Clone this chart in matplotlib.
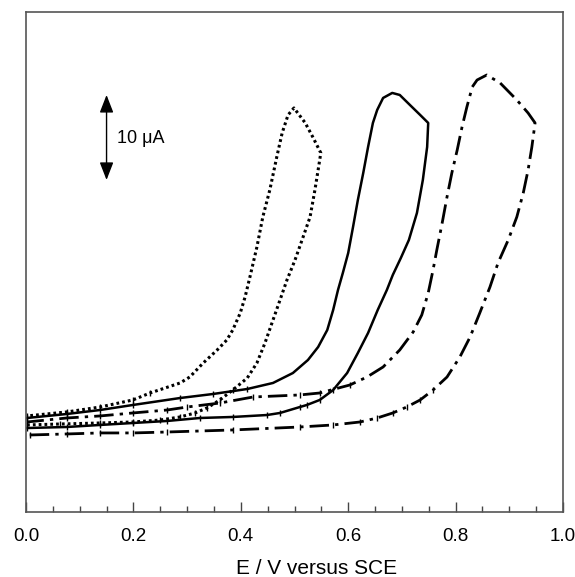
import numpy as np
import matplotlib
matplotlib.use("Agg")
import matplotlib.pyplot as plt

plt.rcParams['font.family'] = ['Liberation Sans', 'DejaVu Sans']

# Cyclic voltammograms, current in uA (arbitrary zero), potential in V vs SCE.
# Each loop: forward scan (lower branch) to the vertex, then the reverse scan.
E_dot = [0.002, 0.063, 0.138, 0.199, 0.250, 0.287, 0.315, 0.337, 0.361, 0.385,
         0.412, 0.430, 0.445, 0.460, 0.473, 0.486, 0.501, 0.516, 0.529, 0.538,
         0.544, 0.549, 0.534, 0.520, 0.499, 0.488, 0.477, 0.467, 0.454, 0.441,
         0.430, 0.417, 0.408, 0.399, 0.385, 0.374, 0.356, 0.330, 0.305, 0.287,
         0.231, 0.199, 0.138, 0.076, 0.002]
I_dot = [1.18, 1.29, 1.41, 1.53, 1.76, 2.12, 2.59, 3.18, 4.12, 5.29,
         6.70, 8.47, 10.82, 13.53, 15.88, 18.24, 20.59, 23.29, 25.65, 28.82,
         31.18, 33.18, 35.06, 36.71, 38.47, 37.65, 35.53, 32.71, 28.82, 25.65,
         22.12, 18.59, 16.24, 14.35, 12.35, 11.18, 10.00, 8.47, 6.82, 6.12,
         4.94, 4.12, 3.29, 2.71, 2.24]

E_solid = [0.002, 0.076, 0.138, 0.199, 0.263, 0.324, 0.385, 0.449, 0.473, 0.510,
           0.523, 0.547, 0.572, 0.598, 0.618, 0.637, 0.655, 0.672, 0.683, 0.698,
           0.713, 0.728, 0.739, 0.747, 0.749, 0.734, 0.715, 0.696, 0.682, 0.665,
           0.654, 0.646, 0.637, 0.628, 0.618, 0.609, 0.600, 0.590, 0.581, 0.572,
           0.561, 0.544, 0.525, 0.510, 0.497, 0.460, 0.412, 0.348, 0.287, 0.199,
           0.138, 0.076, 0.002]
I_solid = [0.82, 0.94, 1.18, 1.41, 1.65, 2.00, 2.12, 2.35, 2.59, 3.29,
           3.53, 4.12, 5.29, 7.29, 9.65, 12.00, 14.71, 17.06, 18.82, 20.82,
           22.94, 26.12, 30.00, 33.88, 36.71, 37.65, 38.82, 40.00, 40.24, 39.65,
           38.24, 36.71, 33.88, 30.82, 27.65, 24.47, 21.41, 19.06, 17.06, 14.71,
           12.35, 10.35, 8.82, 8.00, 7.29, 6.12, 5.41, 4.82, 4.35, 3.53,
           2.94, 2.47, 2.00]

E_dashdot = [0.007, 0.076, 0.138, 0.199, 0.263, 0.385, 0.510, 0.572, 0.622, 0.654,
             0.683, 0.709, 0.734, 0.758, 0.784, 0.808, 0.827, 0.845, 0.864, 0.879,
             0.898, 0.914, 0.926, 0.935, 0.942, 0.948, 0.935, 0.914, 0.883, 0.858,
             0.840, 0.831, 0.821, 0.812, 0.803, 0.793, 0.784, 0.775, 0.765, 0.758,
             0.749, 0.737, 0.721, 0.696, 0.665, 0.635, 0.603, 0.547, 0.510, 0.423,
             0.361, 0.300, 0.263, 0.199, 0.138, 0.076, 0.002]
I_dashdot = [0.00, 0.12, 0.24, 0.24, 0.35, 0.59, 0.94, 1.18, 1.53, 2.00,
             2.59, 3.29, 4.12, 5.29, 6.82, 9.18, 11.53, 14.35, 17.41, 20.24,
             22.94, 25.65, 28.47, 31.18, 33.88, 36.71, 37.88, 39.41, 41.41, 42.35,
             41.76, 40.94, 38.59, 36.24, 33.53, 30.82, 28.00, 24.94, 21.76, 19.41,
             16.71, 14.12, 12.12, 10.00, 8.00, 6.82, 5.88, 4.94, 4.71, 4.47,
             3.76, 3.29, 2.94, 2.59, 2.24, 2.00, 1.53]

fig = plt.figure(figsize=(5.75, 5.77), dpi=100)
ax = fig.add_axes([26 / 575, 65 / 577, 537 / 575, 500 / 577])

ax.plot(E_dot, I_dot, color='black', lw=2.2, ls=(0, (0.9, 1.0)))
ax.plot(E_solid, I_solid, color='black', lw=1.8, ls='-')
ax.plot(E_dashdot, I_dashdot, color='black', lw=2.0, ls=(0, (7, 2.2, 1.2, 2.2)))

# small point markers along the flat baseline parts
for E, I in [(E_dot, I_dot), (E_solid, I_solid), (E_dashdot, I_dashdot)]:
    E = np.asarray(E)
    I = np.asarray(I)
    m = I < 6.0
    ax.plot(E[m], I[m], ls='none', marker='|', ms=4, mew=1.0, color='black')

# 10 uA scale bar
ax.annotate('', xy=(0.150, 40.0), xytext=(0.150, 30.0),
            arrowprops=dict(arrowstyle='<|-|>,head_length=0.9,head_width=0.35',
                            mutation_scale=12, color='black', lw=1.0,
                            shrinkA=0, shrinkB=0))
ax.text(0.169, 34.9, '10 \u03bcA', fontsize=13, ha='left', va='center')

ax.set_xlim(0, 1.0)
ax.set_ylim(-9.06, 49.76)
ax.set_xticks(np.arange(0, 1.01, 0.2))
ax.set_xticks(np.arange(0, 1.01, 0.05), minor=True)
ax.set_xticklabels(['0.0', '0.2', '0.4', '0.6', '0.8', '1.0'])
ax.set_yticks([])
ax.tick_params(axis='x', which='major', direction='in', length=7.5, width=1.0,
               color='#444444', labelsize=13.5, pad=11.5)
ax.tick_params(axis='x', which='minor', direction='in', length=4, width=1.0,
               color='#444444')
for s in ax.spines.values():
    s.set_color('#555555')
    s.set_linewidth(1.2)

ax.set_xlabel('E / V versus SCE', fontsize=15, va='center')
ax.xaxis.set_label_coords(0.542, -0.112)

fig.savefig('out.png', dpi=100)
